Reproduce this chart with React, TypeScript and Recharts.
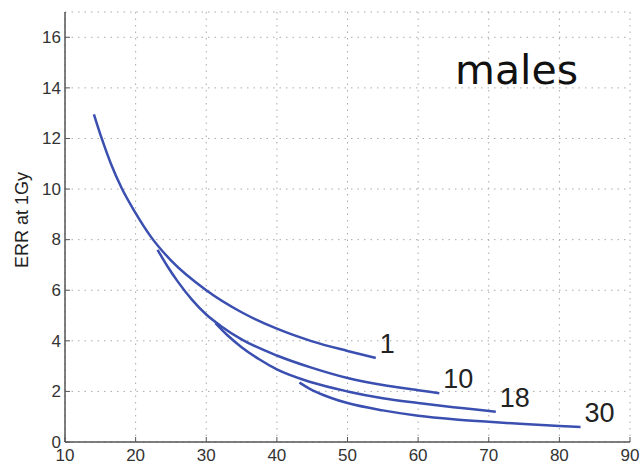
import React from 'react';
import { LineChart, Line, XAxis, YAxis, CartesianGrid, LabelList } from 'recharts';

// age at exposure curves
const age1X = [14.1, 15.2, 16.5, 18, 20, 22.2, 25, 30, 35, 40, 45, 50, 54];
const age1Y = [12.95, 12.0, 11.0, 10.05, 9.05, 8.1, 7.18, 6.0, 5.13, 4.48, 3.98, 3.6, 3.32];

const age10X = [23.1, 24.5, 26, 28, 30, 32, 35, 40, 45, 50, 55, 60, 63];
const age10Y = [7.6, 6.95, 6.33, 5.62, 5.04, 4.6, 4.06, 3.42, 2.93, 2.53, 2.25, 2.05, 1.93];

const age18X = [31.3, 33, 35, 37.5, 40, 45, 50, 55, 60, 65, 71];
const age18Y = [4.7, 4.22, 3.75, 3.27, 2.87, 2.35, 2.0, 1.73, 1.54, 1.37, 1.2];

const age30X = [43.2, 45, 47.5, 50, 55, 60, 65, 70, 75, 80, 83];
const age30Y = [2.35, 2.05, 1.76, 1.54, 1.25, 1.04, 0.9, 0.8, 0.71, 0.635, 0.59];

const xTicks = [10, 20, 30, 40, 50, 60, 70, 80, 90];
const yTicks = [0, 2, 4, 6, 8, 10, 12, 14, 16];

const series = [
  { name: '1', xs: age1X, ys: age1Y },
  { name: '10', xs: age10X, ys: age10Y },
  { name: '18', xs: age18X, ys: age18Y },
  { name: '30', xs: age30X, ys: age30Y },
];

const toPoints = (xs: number[], ys: number[]) => xs.map((x, i) => ({ x, y: ys[i] }));

const FRAME = '#555';
const BLUE = '#3a4fb0';
const FONT = '"Liberation Sans", Arial, sans-serif';

const BottomTick = (props: any) => {
  const { x, y, payload } = props;
  return (
    <g>
      <line x1={x} y1={y} x2={x} y2={y - 5} stroke={FRAME} strokeWidth={1} />
      <text x={x} y={y + 19} textAnchor="middle" fontSize={17} fill="#333" fontFamily={FONT}>
        {payload.value}
      </text>
    </g>
  );
};

const LeftTick = (props: any) => {
  const { x, y, payload } = props;
  return (
    <g>
      <line x1={x} y1={y} x2={x + 5} y2={y} stroke={FRAME} strokeWidth={1} />
      <text x={x - 4} y={y} dy="0.34em" textAnchor="end" fontSize={17} fill="#333" fontFamily={FONT}>
        {payload.value}
      </text>
    </g>
  );
};

const TopTick = (props: any) => {
  const { x, y } = props;
  return <line x1={x} y1={y} x2={x} y2={y + 5} stroke={FRAME} strokeWidth={1} />;
};

const RightTick = (props: any) => {
  const { x, y } = props;
  return <line x1={x} y1={y} x2={x - 5} y2={y} stroke={FRAME} strokeWidth={1} />;
};

const EndLabel = (name: string, count: number) => (props: any) => {
  const { x, y, index } = props;
  if (index !== count - 1) return null;
  return (
    <text x={x + 4} y={y - 5} fontSize={27} fill="#222" fontFamily={FONT}>
      {name}
    </text>
  );
};

export default function App() {
  return (
    <div style={{ position: 'absolute', left: 0, top: 0, width: 641, height: 464, background: '#fff' }}>
      <LineChart width={641} height={464} margin={{ top: 12, right: 11, bottom: 0, left: 0 }}>
        <CartesianGrid stroke="#aaa" strokeDasharray="1.5 5" />
        <XAxis
          type="number"
          dataKey="x"
          domain={[10, 90]}
          ticks={xTicks}
          height={22}
          tickSize={0}
          tickMargin={0}
          tickLine={false}
          axisLine={{ stroke: FRAME, strokeWidth: 1.5 }}
          tick={<BottomTick />}
          allowDataOverflow
        />
        <XAxis
          xAxisId="top"
          orientation="top"
          type="number"
          dataKey="x"
          domain={[10, 90]}
          ticks={xTicks}
          height={0}
          tickSize={0}
          tickMargin={0}
          tickLine={false}
          axisLine={{ stroke: FRAME, strokeWidth: 1.5 }}
          tick={<TopTick />}
          allowDataOverflow
        />
        <YAxis
          type="number"
          domain={[0, 17]}
          ticks={yTicks}
          width={65}
          tickSize={0}
          tickMargin={0}
          tickLine={false}
          axisLine={{ stroke: FRAME, strokeWidth: 1.5 }}
          tick={<LeftTick />}
          allowDataOverflow
          label={{
            content: () => (
              <text
                transform="translate(28,220) rotate(-90)"
                textAnchor="middle"
                fontSize={18}
                fill="#222"
                fontFamily={FONT}
              >
                ERR at 1Gy
              </text>
            ),
          }}
        />
        <YAxis
          yAxisId="right"
          orientation="right"
          type="number"
          domain={[0, 17]}
          ticks={yTicks}
          width={0}
          tickSize={0}
          tickMargin={0}
          tickLine={false}
          axisLine={{ stroke: FRAME, strokeWidth: 1.5 }}
          tick={<RightTick />}
          allowDataOverflow
        />
        {series.map((s) => (
          <Line
            key={s.name}
            data={toPoints(s.xs, s.ys)}
            dataKey="y"
            type="monotone"
            stroke={BLUE}
            strokeWidth={2.5}
            dot={false}
            activeDot={false}
            isAnimationActive={false}
          >
            <LabelList dataKey="y" content={EndLabel(s.name, s.xs.length)} />
          </Line>
        ))}
      </LineChart>
      <div
        style={{
          position: 'absolute',
          left: 455,
          top: 50,
          fontSize: 41,
          lineHeight: 1,
          fontFamily: '"DejaVu Sans", Verdana, sans-serif',
          color: '#111',
        }}
      >
        males
      </div>
    </div>
  );
}
